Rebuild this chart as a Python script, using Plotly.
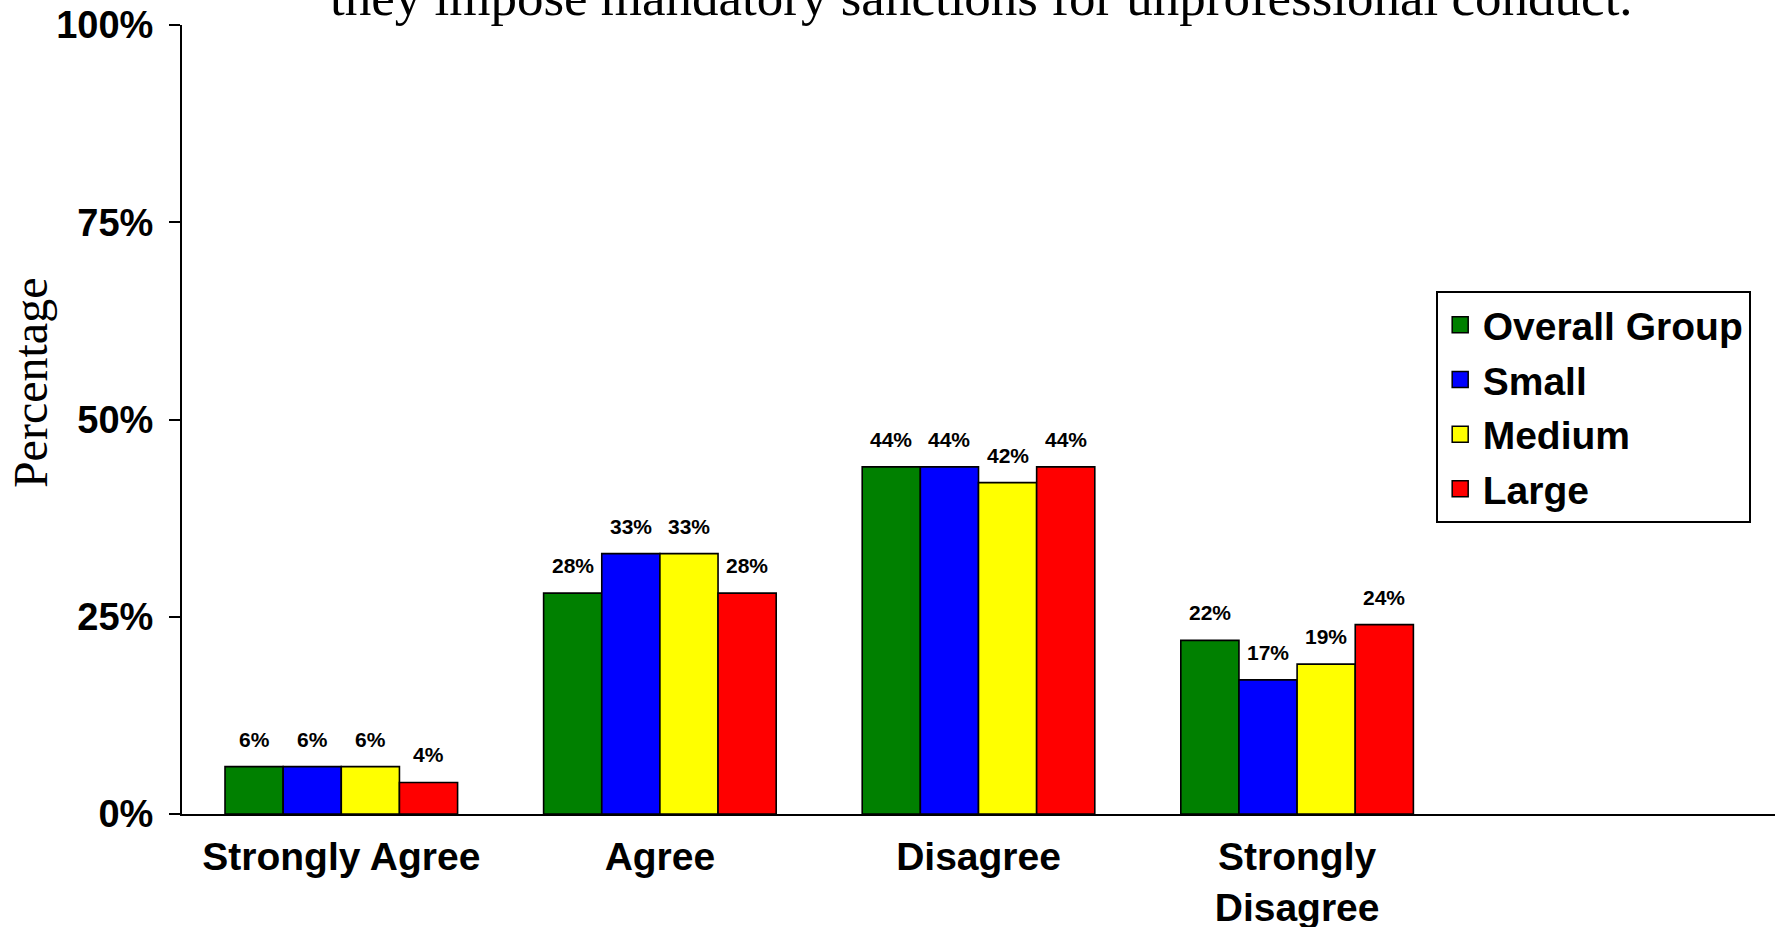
import plotly.graph_objects as go

# ---- data ----
categories = ["Strongly Agree", "Agree", "Disagree", "Strongly<br>Disagree"]
series_names = ["Overall Group", "Small", "Medium", "Large"]
overall_group = [6, 28, 44, 22]
small = [6, 33, 44, 17]
medium = [6, 33, 42, 19]
large = [4, 28, 44, 24]
y_tick_values = [0, 25, 50, 75, 100]
y_tick_labels = ["0%", "25%", "50%", "75%", "100%"]
title_text = "they impose mandatory sanctions for unprofessional conduct."
y_title = "Percentage"

series_values = [overall_group, small, medium, large]
colors = ["#008000", "#0000FF", "#FFFF00", "#FF0000"]

SANS = "Liberation Sans, Arial, sans-serif"
SERIF = "Liberation Serif, Times New Roman, serif"

x_pos = list(range(len(categories)))
bargap = 0.27
bar_w = (1 - bargap) / len(series_values)

fig = go.Figure()
for name, vals, col in zip(series_names, series_values, colors):
    fig.add_trace(go.Bar(
        x=x_pos, y=vals, name=name, showlegend=False,
        marker=dict(color=col, line=dict(color="black", width=1.6)),
    ))
# legend entries (larger square symbols)
for k, (name, col) in enumerate(zip(series_names, colors)):
    fig.add_trace(go.Scatter(
        x=[None], y=[None], mode="markers", name=name, legendgroup=f"g{k}",
        marker=dict(symbol="square", size=16, color=col, line=dict(color="black", width=1.5)),
    ))

annotations = []
for j, vals in enumerate(series_values):
    for i, v in enumerate(vals):
        annotations.append(dict(
            x=i + (j - (len(series_values) - 1) / 2) * bar_w, y=v,
            xref="x", yref="y", text=f"{v}%", showarrow=False,
            yanchor="bottom", yshift=14,
            font=dict(family=SANS, size=21, color="black", weight="bold"),
        ))

annotations.append(dict(
    x=0.502, y=1.0, xref="paper", yref="paper", yanchor="bottom", yshift=-3,
    text=title_text, showarrow=False,
    font=dict(family=SERIF, size=53, color="black"),
))
annotations.append(dict(
    x=-0.095, y=0.547, xref="paper", yref="paper", xanchor="center", yanchor="middle",
    text=y_title, textangle=-90, showarrow=False,
    font=dict(family=SERIF, size=48, color="black"),
))

fig.update_layout(
    width=1779, height=927,
    margin=dict(l=182, r=4, t=25, b=113),
    paper_bgcolor="white", plot_bgcolor="white",
    barmode="group", bargap=bargap, bargroupgap=0,
    annotations=annotations,
    legend=dict(
        x=0.787, y=0.663, xanchor="left", yanchor="top",
        bordercolor="black", borderwidth=2, bgcolor="white",
        font=dict(family=SANS, size=39, color="black", weight="bold"),
        tracegroupgap=1, itemwidth=35, entrywidth=270,
    ),
    xaxis=dict(
        range=[-0.5, len(categories) + 0.5],
        tickmode="array", tickvals=x_pos, ticktext=categories,
        showline=True, linecolor="black", linewidth=2, ticks="",
        showgrid=False, zeroline=False, automargin=False,
        tickfont=dict(family=SANS, size=39, color="black", weight="bold"),
        ticklabelstandoff=7,
    ),
    yaxis=dict(
        range=[0, 100], tickmode="array", tickvals=y_tick_values, ticktext=y_tick_labels,
        showline=True, linecolor="black", linewidth=2,
        ticks="outside", ticklen=11, tickwidth=2, tickcolor="black",
        showgrid=False, zeroline=False, automargin=False,
        tickfont=dict(family=SANS, size=38, color="black", weight="bold"),
        ticklabelstandoff=8,
    ),
)

fig.write_html("out.html", config={"displayModeBar": False},
               post_script="document.body.style.margin='0px';")
